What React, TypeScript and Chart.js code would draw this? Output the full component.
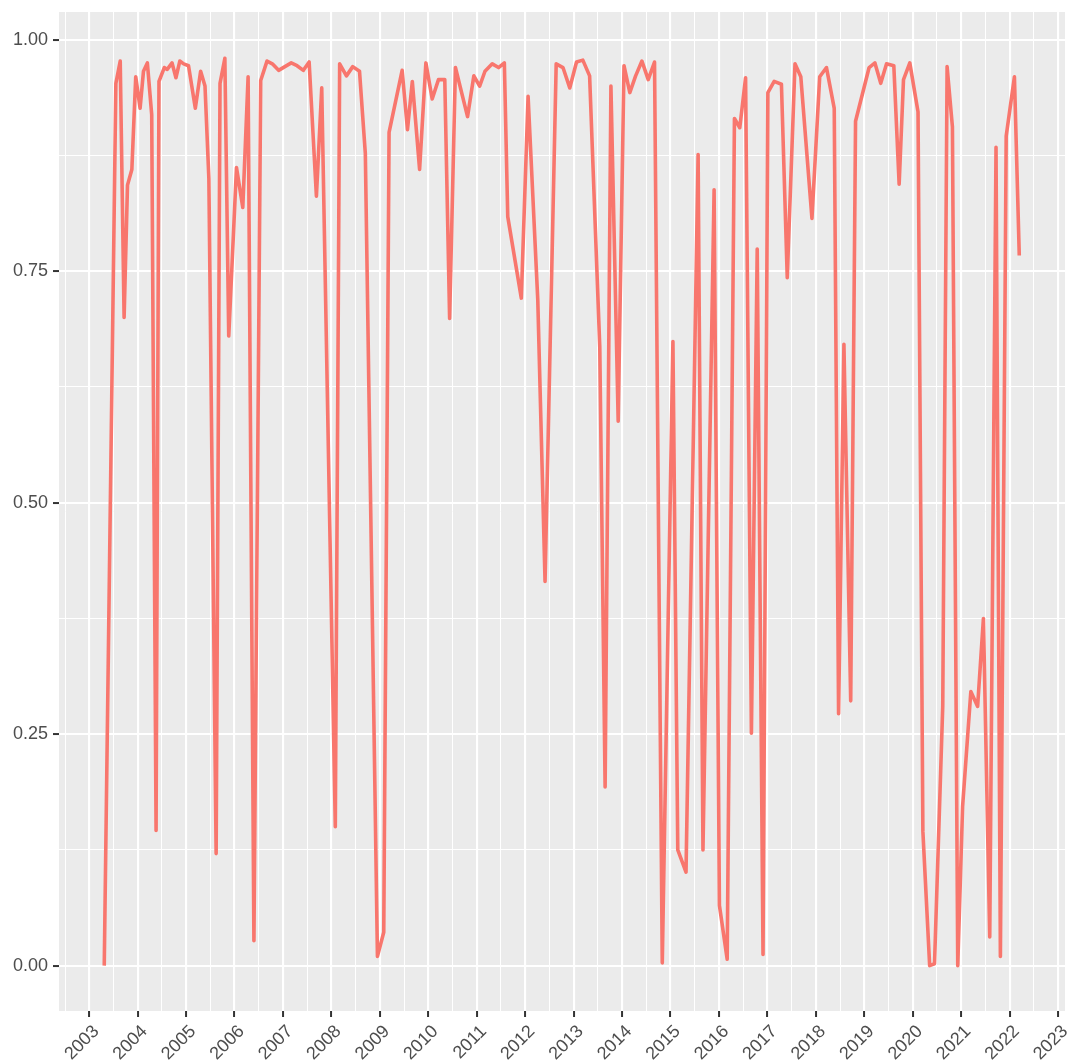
import React, { useEffect, useRef } from "react";
import { Chart, registerables } from "chart.js";

Chart.register(...registerables);

// Decimal year of each observation
const years: number[] = [
  2003.31, 2003.55, 2003.64, 2003.72, 2003.79, 2003.88, 2003.96, 2004.05, 2004.12, 2004.2,
  2004.29, 2004.38, 2004.44, 2004.55, 2004.61, 2004.71, 2004.79, 2004.87, 2004.95, 2005.05,
  2005.19, 2005.3, 2005.39, 2005.47, 2005.62, 2005.7, 2005.8, 2005.88, 2006.04, 2006.17,
  2006.28, 2006.4, 2006.54, 2006.67, 2006.78, 2006.91, 2007.17, 2007.29, 2007.42, 2007.54,
  2007.69, 2007.8, 2008.08, 2008.17, 2008.31, 2008.44, 2008.58, 2008.7, 2008.95, 2009.08,
  2009.19, 2009.46, 2009.57, 2009.67, 2009.82, 2009.95, 2010.08, 2010.21, 2010.34, 2010.44,
  2010.56, 2010.81, 2010.94, 2011.06, 2011.17, 2011.32, 2011.45, 2011.57, 2011.64, 2011.92,
  2012.06, 2012.26, 2012.41, 2012.64, 2012.78, 2012.92, 2013.06, 2013.19, 2013.33, 2013.54,
  2013.65, 2013.77, 2013.92, 2014.04, 2014.16, 2014.28, 2014.41, 2014.54, 2014.67, 2014.83,
  2015.05, 2015.15, 2015.32, 2015.57, 2015.67, 2015.9, 2016.01, 2016.17, 2016.32, 2016.43,
  2016.55, 2016.67, 2016.79, 2016.91, 2017.01, 2017.14, 2017.29, 2017.41, 2017.57, 2017.69,
  2017.92, 2018.08, 2018.22, 2018.38, 2018.47, 2018.58, 2018.72, 2018.82, 2019.1, 2019.22,
  2019.34, 2019.46, 2019.61, 2019.72, 2019.81, 2019.94, 2020.11, 2020.21, 2020.35, 2020.45,
  2020.62, 2020.71, 2020.82, 2020.93, 2021.03, 2021.2, 2021.34, 2021.46, 2021.59, 2021.72,
  2021.81, 2021.93, 2022.1, 2022.2,
];

// Series value at each observation
const values: number[] = [
  0.0, 0.953, 0.977, 0.7, 0.843, 0.86, 0.96, 0.926, 0.966, 0.975,
  0.919, 0.146, 0.955, 0.97, 0.968, 0.975, 0.959, 0.977, 0.974, 0.972,
  0.926, 0.966, 0.95, 0.85, 0.121, 0.953, 0.98, 0.68, 0.862, 0.819,
  0.96, 0.027, 0.956, 0.977, 0.974, 0.967, 0.975, 0.972, 0.967, 0.976,
  0.831, 0.948, 0.15, 0.974, 0.961, 0.971, 0.966, 0.877, 0.01, 0.036,
  0.9, 0.967, 0.903, 0.955, 0.86, 0.975, 0.936, 0.957, 0.957, 0.699,
  0.97, 0.917, 0.961, 0.95, 0.966, 0.974, 0.97, 0.975, 0.809, 0.721,
  0.939, 0.719, 0.415, 0.974, 0.97, 0.948, 0.976, 0.978, 0.961, 0.668,
  0.193, 0.95, 0.588, 0.972, 0.943, 0.961, 0.977, 0.957, 0.976, 0.003,
  0.674, 0.125, 0.101, 0.876, 0.125, 0.838, 0.065, 0.007, 0.915, 0.905,
  0.959, 0.251, 0.774, 0.012, 0.943, 0.955, 0.952, 0.743, 0.974, 0.96,
  0.807, 0.96, 0.97, 0.926, 0.272, 0.671, 0.286, 0.912, 0.97, 0.975,
  0.953, 0.974, 0.972, 0.844, 0.957, 0.975, 0.922, 0.145, 0.0, 0.002,
  0.28, 0.971, 0.906, 0.0, 0.172, 0.296, 0.28, 0.375, 0.031, 0.884,
  0.01, 0.896, 0.96, 0.767,
];

const xMajorTicks: number[] = [
  2003, 2004, 2005, 2006, 2007, 2008, 2009, 2010, 2011, 2012, 2013,
  2014, 2015, 2016, 2017, 2018, 2019, 2020, 2021, 2022, 2023,
];
const xTickLabels: string[] = xMajorTicks.map((y) => String(y));
const yMajorTicks: number[] = [0, 0.25, 0.5, 0.75, 1.0];
const yTickLabels: string[] = ["0.00", "0.25", "0.50", "0.75", "1.00"];

const X_MIN = 2002.376;
const X_MAX = 2023.144;
const Y_MIN = -0.049;
const Y_MAX = 1.03;

const LINE_COLOR = "#F8766D";
const PANEL_BG = "#EBEBEB";
const TEXT_COLOR = "#4D4D4D";
const FONT = "'Liberation Sans', Arial, sans-serif";

function withMinors(majors: number[], lo: number, hi: number): number[] {
  const step = majors[1] - majors[0];
  const all: number[] = [];
  const start = majors[0] - step;
  const end = majors[majors.length - 1] + step;
  for (let v = start; v <= end + 1e-9; v += step / 2) {
    const r = Math.round(v * 1000) / 1000;
    if (r >= lo && r <= hi) all.push(r);
  }
  return all;
}

function isMajor(v: number, majors: number[]): boolean {
  return majors.some((m) => Math.abs(m - v) < 1e-6);
}

const panelBg = {
  id: "panelBg",
  beforeDraw(chart: any) {
    const { ctx, chartArea } = chart;
    ctx.save();
    ctx.fillStyle = PANEL_BG;
    ctx.fillRect(
      chartArea.left,
      chartArea.top,
      chartArea.right - chartArea.left,
      chartArea.bottom - chartArea.top
    );
    ctx.restore();
  },
};

export default function App() {
  const canvasRef = useRef<HTMLCanvasElement | null>(null);

  useEffect(() => {
    if (!canvasRef.current) return;
    const points = years.map((x, i) => ({ x, y: values[i] }));
    const xTicks = withMinors(xMajorTicks, X_MIN, X_MAX);
    const yTicks = withMinors(yMajorTicks, Y_MIN, Y_MAX);

    const chart = new Chart(canvasRef.current, {
      type: "line",
      data: {
        datasets: [
          {
            data: points,
            borderColor: LINE_COLOR,
            backgroundColor: LINE_COLOR,
            borderWidth: 3.6,
            pointRadius: 0,
            tension: 0,
            fill: false,
            borderJoinStyle: "round",
            borderCapStyle: "butt",
          },
        ],
      },
      plugins: [panelBg],
      options: {
        animation: false,
        responsive: true,
        maintainAspectRatio: false,
        devicePixelRatio: 1,
        layout: { padding: { left: 0, right: 2, top: 12, bottom: 0 } },
        plugins: {
          legend: { display: false },
          tooltip: { enabled: false },
        },
        scales: {
          x: {
            type: "linear",
            min: X_MIN,
            max: X_MAX,
            afterBuildTicks: (scale: any) => {
              scale.ticks = xTicks.map((v) => ({ value: v }));
            },
            afterFit: (scale: any) => {
              scale.height = 52;
              scale.paddingLeft = 0;
              scale.paddingRight = 0;
            },
            border: { display: false },
            grid: {
              color: "#FFFFFF",
              lineWidth: (c: any) => (c.tick && isMajor(c.tick.value, xMajorTicks) ? 2.1 : 1),
              drawTicks: true,
              tickLength: 6,
              tickWidth: 2,
              tickColor: (c: any) =>
                c.tick && isMajor(c.tick.value, xMajorTicks) ? "#333333" : "rgba(0,0,0,0)",
            },
            ticks: {
              autoSkip: false,
              minRotation: 45,
              maxRotation: 45,
              padding: 4,
              labelOffset: 7,
              color: TEXT_COLOR,
              font: { family: FONT, size: 18 },
              callback: (v: any) => {
                const i = xMajorTicks.findIndex((m) => Math.abs(m - Number(v)) < 1e-6);
                return i >= 0 ? xTickLabels[i] : "";
              },
            },
          },
          y: {
            type: "linear",
            min: Y_MIN,
            max: Y_MAX,
            afterBuildTicks: (scale: any) => {
              scale.ticks = yTicks.map((v) => ({ value: v }));
            },
            afterFit: (scale: any) => {
              scale.width = 59;
              scale.paddingTop = 0;
              scale.paddingBottom = 0;
            },
            border: { display: false },
            grid: {
              color: "#FFFFFF",
              lineWidth: (c: any) => (c.tick && isMajor(c.tick.value, yMajorTicks) ? 2.1 : 1),
              drawTicks: true,
              tickLength: 6,
              tickWidth: 2,
              tickColor: (c: any) =>
                c.tick && isMajor(c.tick.value, yMajorTicks) ? "#333333" : "rgba(0,0,0,0)",
            },
            ticks: {
              autoSkip: false,
              padding: 5,
              color: TEXT_COLOR,
              font: { family: FONT, size: 18 },
              callback: (v: any) => {
                const i = yMajorTicks.findIndex((m) => Math.abs(m - Number(v)) < 1e-6);
                return i >= 0 ? yTickLabels[i] : "";
              },
            },
          },
        },
      } as any,
    });

    return () => chart.destroy();
  }, []);

  return (
    <div
      style={{
        position: "fixed",
        left: 0,
        top: 0,
        width: 1067,
        height: 1063,
        background: "#FFFFFF",
      }}
    >
      <canvas ref={canvasRef} />
    </div>
  );
}
